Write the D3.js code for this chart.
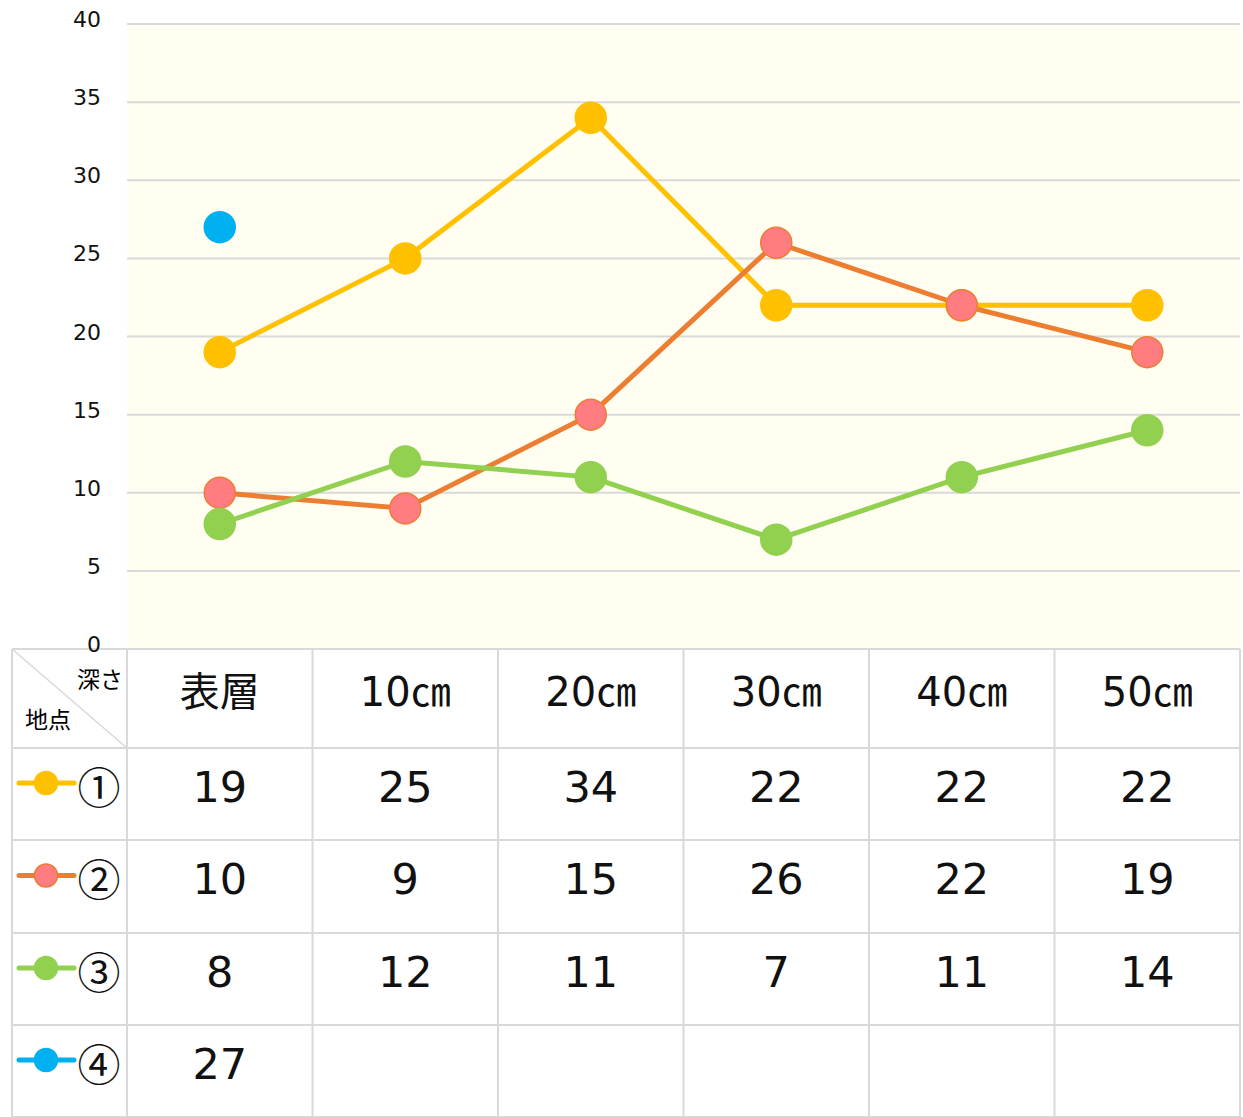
<!DOCTYPE html>
<html>
<head>
<meta charset="utf-8">
<script src="https://cdn.jsdelivr.net/npm/d3@7"></script>
<style>
  html,body{margin:0;padding:0;background:#fff;}
  svg{display:block;font-family:"DejaVu Sans","Noto Sans CJK JP",sans-serif;}
</style>
</head>
<body>
<svg id="chart" width="1243" height="1117"></svg>
<script>
const categories=["表層","10㎝","20㎝","30㎝","40㎝","50㎝"];
const seriesNames=["①","②","③","④"];
const s1=[19,25,34,22,22,22];
const s2=[10,9,15,26,22,19];
const s3=[8,12,11,7,11,14];
const s4=[27,null,null,null,null,null];
const yTicks=[0,5,10,15,20,25,30,35,40];

const series=[
  {name:seriesNames[0],values:s1,line:"#FFC000",fill:"#FFC000",stroke:"#FFC000"},
  {name:seriesNames[1],values:s2,line:"#ED7D31",fill:"#FF7C80",stroke:"#ED7D31"},
  {name:seriesNames[2],values:s3,line:"#92D050",fill:"#92D050",stroke:"#92D050"},
  {name:seriesNames[3],values:s4,line:"#00B0F0",fill:"#00B0F0",stroke:"#00B0F0"}
];

const svg=d3.select("#chart");
const plot={left:127,right:1240,top:24,bottom:649};
const tableLeft=12;
const rowEdges=[649,748,840,933,1025,1117];
const grid="#d9d9d9";

const x=d3.scaleBand().domain(categories).range([plot.left,plot.right]);
const y=d3.scaleLinear().domain([0,40]).range([plot.bottom,plot.top]);

// plot background
svg.append("rect").attr("x",plot.left).attr("y",plot.top)
  .attr("width",plot.right-plot.left).attr("height",plot.bottom-plot.top)
  .attr("fill","#FFFEF1");

// gridlines
svg.append("g").selectAll("line").data(yTicks).join("line")
  .attr("x1",plot.left).attr("x2",plot.right)
  .attr("y1",d=>y(d)).attr("y2",d=>y(d))
  .attr("stroke",grid).attr("stroke-width",2);

// lines and markers
const cx=c=>x(c)+x.bandwidth()/2;
series.forEach(s=>{
  const pts=categories.map((c,i)=>({c,v:s.values[i]})).filter(p=>p.v!=null);
  const line=d3.line().x(p=>cx(p.c)).y(p=>y(p.v));
  svg.append("path").datum(pts).attr("d",line)
    .attr("fill","none").attr("stroke",s.line).attr("stroke-width",5)
    .attr("stroke-linejoin","round");
});
series.forEach(s=>{
  const pts=categories.map((c,i)=>({c,v:s.values[i]})).filter(p=>p.v!=null);
  svg.append("g").selectAll("circle").data(pts).join("circle")
    .attr("cx",p=>cx(p.c)).attr("cy",p=>y(p.v)).attr("r",15.5)
    .attr("fill",s.fill).attr("stroke",s.stroke).attr("stroke-width",1.5);
});

// table
const tbl=svg.append("g");
const colEdges=[tableLeft,...categories.map(c=>x(c)),plot.right];
tbl.append("rect").attr("x",tableLeft).attr("y",rowEdges[0])
  .attr("width",plot.right-tableLeft).attr("height",rowEdges[5]-rowEdges[0]).attr("fill","#fff");
rowEdges.forEach(r=>{
  tbl.append("line").attr("x1",tableLeft).attr("x2",plot.right).attr("y1",r).attr("y2",r)
    .attr("stroke",grid).attr("stroke-width",2);
});
colEdges.forEach(c=>{
  tbl.append("line").attr("x1",c).attr("x2",c).attr("y1",rowEdges[0]).attr("y2",rowEdges[5])
    .attr("stroke",grid).attr("stroke-width",2);
});
// corner diagonal
tbl.append("line").attr("x1",tableLeft).attr("y1",rowEdges[0]).attr("x2",plot.left).attr("y2",rowEdges[1])
  .attr("stroke",grid).attr("stroke-width",1.5);
tbl.append("text").attr("x",123).attr("y",681).attr("text-anchor","end")
  .attr("dominant-baseline","middle").attr("font-size",23).text("深さ");
tbl.append("text").attr("x",25).attr("y",721)
  .attr("dominant-baseline","middle").attr("font-size",23).text("地点");

// header
tbl.selectAll("text.hdr").data(categories).join("text").attr("class","hdr")
  .attr("x",cx).attr("y",(rowEdges[0]+rowEdges[1])/2-4)
  .attr("text-anchor","middle").attr("dominant-baseline","middle")
  .attr("font-size",40).attr("fill","#111").text(d=>d);

// rows
series.forEach((s,k)=>{
  const ym=(rowEdges[k+1]+rowEdges[k+2])/2-6;
  const ly=ym-5;
  tbl.append("line").attr("x1",19).attr("x2",74).attr("y1",ly).attr("y2",ly)
    .attr("stroke",s.line).attr("stroke-width",5).attr("stroke-linecap","round");
  tbl.append("circle").attr("cx",46).attr("cy",ly).attr("r",11.5)
    .attr("fill",s.fill).attr("stroke",s.stroke).attr("stroke-width",1.5);
  tbl.append("text").attr("x",99).attr("y",ly+9).attr("text-anchor","middle")
    .attr("dominant-baseline","middle").attr("font-size",43).attr("fill","#111")
    .style("font-family","'Noto Sans CJK JP',sans-serif").text(s.name);
  tbl.selectAll(null).data(categories.map((c,i)=>({c,v:s.values[i]})).filter(p=>p.v!=null))
    .join("text").attr("x",p=>cx(p.c)).attr("y",ym+2)
    .attr("text-anchor","middle").attr("dominant-baseline","middle")
    .attr("font-size",43).attr("fill","#111").text(p=>p.v);
});

// y tick labels (drawn last, the 0 sits over the table edge)
svg.append("g").selectAll("text").data(yTicks).join("text")
  .attr("x",101).attr("y",d=>y(d)-3)
  .attr("text-anchor","end").attr("dominant-baseline","middle")
  .attr("font-size",22).attr("fill","#111")
  .text(d=>d);
</script>
</body>
</html>
